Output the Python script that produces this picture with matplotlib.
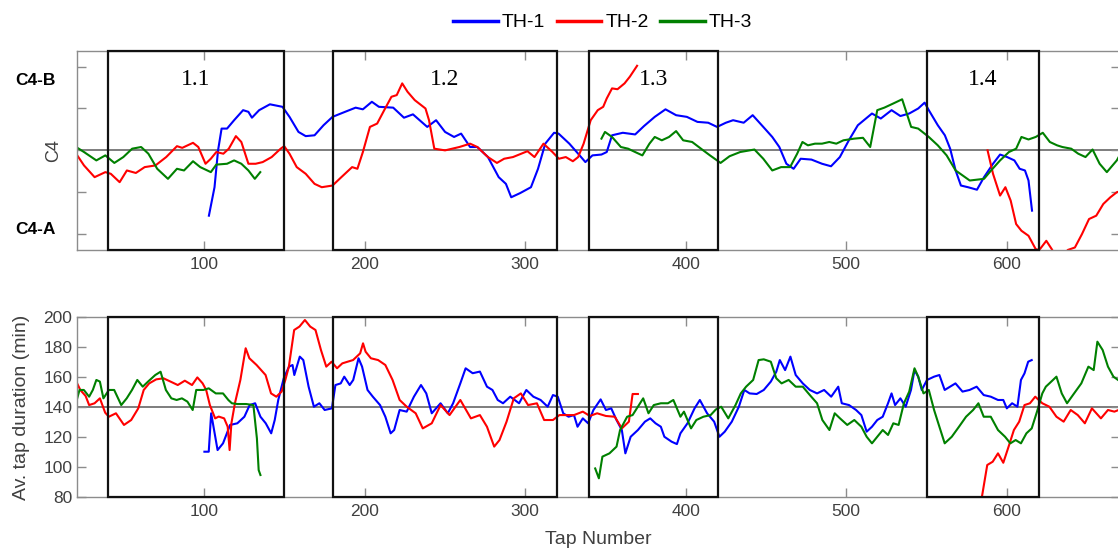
import numpy as np
import matplotlib
matplotlib.use("Agg")
import matplotlib.pyplot as plt

plt.rcParams['font.family'] = ['Liberation Sans', 'DejaVu Sans']

# ---- data (tap number, value) ----
# top panel: C4 position (arbitrary units, C4-A below, C4-B above)
TH1_C4 = [(103, -1.56), (106.5, -0.88), (108.7, 0), (110.9, 0.52), (114.3, 0.52), (118.7, 0.72),
          (124.3, 0.96), (127.6, 0.92), (129.8, 0.78), (134.3, 0.96), (141, 1.1), (148.8, 1.04),
          (153.2, 0.8), (158.8, 0.44), (163.3, 0.34), (168.8, 0.36), (174.4, 0.6), (180, 0.8),
          (187.8, 0.92), (194.4, 1.02), (198.9, 0.98), (204.5, 1.16), (208.9, 1.04), (217.8, 1.02),
          (224.5, 0.78), (230.1, 0.86), (239, 0.56), (244.5, 0.72), (250.1, 0.44), (255.7, 0.32),
          (260.1, 0.4), (265.7, 0.08), (270.2, 0.08), (276.8, -0.16), (283.5, -0.64), (288, -0.8),
          (291.3, -1.12), (296.9, -1.02), (303.6, -0.88), (308, -0.44), (312.5, 0.16), (318, 0.42),
          (320.8, 0.4), (327.5, 0.16), (333, -0.08), (337.5, -0.28), (341.9, -0.12), (347.5, -0.1),
          (350.8, -0.04), (354.1, 0.36), (360.8, 0.42), (368.5, 0.38), (374, 0.58), (380.7, 0.8),
          (387.4, 0.98), (394, 0.84), (400.7, 0.8), (407.3, 0.68), (414, 0.66), (419.5, 0.56),
          (425, 0.66), (429.5, 0.72), (436.1, 0.66), (441.7, 0.84), (448.3, 0.56), (453.9, 0.32),
          (458.3, 0.08), (462.7, -0.32), (467.2, -0.44), (471.6, -0.2), (478.3, -0.22), (484.9, -0.32),
          (490.5, -0.38), (496, -0.16), (501.6, 0.24), (507.2, 0.6), (516, 0.88), (521.5, 0.76),
          (528.2, 0.96), (533.7, 0.82), (539.2, 0.88), (544.8, 1.0), (548.8, 1.14), (551.4, 0.96),
          (557, 0.6), (561.4, 0.36), (564.7, 0.04), (568.1, -0.48), (571.4, -0.84), (575.8, -0.88),
          (581.4, -0.94), (585.8, -0.64), (591.4, -0.32), (595.8, -0.1), (600.2, -0.16), (604.7, -0.24),
          (608, -0.44), (611.3, -0.48), (613.5, -0.72), (615.7, -1.44)]

TH2_C4_A = [(20.3, -0.08), (25.2, -0.36), (31.8, -0.64), (38.5, -0.52), (41.9, -0.56), (47.4, -0.76),
            (51.9, -0.48), (57.5, -0.54), (63, -0.4), (69.7, -0.36), (76.4, -0.16), (83.1, 0.1),
            (86.4, 0.06), (93.1, 0.18), (96.4, 0.08), (100.9, -0.32), (104.2, -0.2), (107.6, -0.04),
            (112, -0.08), (115.4, 0.04), (119.8, 0.34), (123.2, 0.2), (127.6, -0.32), (132.1, -0.32),
            (136.5, -0.28), (142.1, -0.16), (147.7, 0.04), (149.9, 0.1), (153.2, -0.08), (157.7, -0.4),
            (163.3, -0.56), (168.8, -0.8), (173.3, -0.88), (180, -0.84), (185.5, -0.64), (192.2, -0.4),
            (195.5, -0.44), (198.9, -0.04), (203.3, 0.56), (207.8, 0.64), (212.2, 0.96), (216.7, 1.28),
            (220, 1.32), (223.4, 1.6), (226.7, 1.4), (231.2, 1.2), (237.9, 1.0), (240.1, 0.72),
            (243.4, 0.04), (250.1, 0), (259, 0.08), (265.7, 0.16), (270.2, 0.08), (276.8, -0.16),
            (282.4, -0.3), (286.9, -0.2), (292.4, -0.16), (301.4, -0.02), (305.8, -0.16), (311.4, 0.16),
            (317, -0.04), (321, -0.2), (325.3, -0.16), (329.7, -0.26), (333, -0.16), (336.4, 0.16),
            (340.8, 0.72), (345.2, 0.96), (348.6, 1.04), (350.8, 1.24), (354.1, 1.48), (357.5, 1.46),
            (361.9, 1.6), (365.2, 1.76), (369.7, 2.02)]
TH2_C4_B = [(588, 0.0), (591.4, -0.56), (595.8, -1.08), (599.1, -0.88), (602.4, -1.2), (605.8, -1.76),
            (609.1, -1.92), (613.5, -2.04), (618, -2.36), (620.2, -2.38), (624.6, -2.16), (628, -2.36),
            (633, -2.7), (637.9, -2.38), (642.4, -2.32), (646.8, -2.0), (651.2, -1.64), (655.7, -1.56),
            (660.1, -1.28), (664.5, -1.12), (668.5, -1.0), (672, -0.96)]

TH3_C4_A = [(20.3, 0.08), (25.2, -0.04), (32.9, -0.24), (38.5, -0.12), (44.1, -0.3), (49.7, -0.16),
            (55.2, 0.04), (60.8, 0.08), (65.3, -0.08), (70.8, -0.44), (77.5, -0.68), (83.1, -0.44),
            (87.5, -0.48), (93.1, -0.26), (97.6, -0.4), (104.2, -0.52), (107.6, -0.34), (114.3, -0.32),
            (118.7, -0.24), (123.2, -0.32), (127.6, -0.48), (131.6, -0.68), (135, -0.52)]
TH3_C4_B = [(347.5, 0.28), (349.7, 0.44), (354.1, 0.32), (359.6, 0.08), (364.1, 0.04), (368.5, -0.04),
            (373, -0.12), (377.4, 0.16), (380.7, 0.32), (385.1, 0.24), (389.6, 0.32), (394, 0.46),
            (398.4, 0.24), (404, 0.2), (409.5, 0.04), (415.1, -0.12), (421.7, -0.3), (427.3, -0.14),
            (433.9, -0.04), (442.8, 0.02), (448.3, -0.2), (453.9, -0.48), (459.4, -0.4), (465, -0.4),
            (469.4, -0.08), (472.7, 0.2), (476.1, 0.12), (480.5, 0.16), (484.9, 0.16), (489.4, 0.2),
            (493.8, 0.16), (498.2, 0.24), (504.9, 0.28), (510.4, 0.3), (514.9, 0.08), (519.3, 0.96),
            (523.7, 1.02), (529.3, 1.12), (534.8, 1.22), (540.4, 0.56), (544.8, 0.52), (551.4, 0.32),
            (557, 0.12), (562.5, -0.12), (568.1, -0.48), (572.5, -0.6), (576.9, -0.72), (581.4, -0.7),
            (585.8, -0.68), (590.2, -0.48), (595.8, -0.24), (601.3, -0.04), (605.8, 0.04), (609.1, 0.32),
            (613.5, 0.26), (618, 0.32), (622.4, 0.42), (626.8, 0.2), (631.3, 0.12), (634.6, 0.08),
            (640.1, 0.04), (644.5, -0.08), (649, -0.16), (653.4, 0.02), (657.8, -0.32), (662.3, -0.52),
            (668.5, -0.24), (672, 0.0)]

# bottom panel: average tap duration (min)
TH1_DUR = [(100.2, 110.1), (102.9, 110.1), (104.4, 135.8), (106.2, 124.6), (108.4, 111.2), (111.8, 115.7),
           (116.2, 128), (120.7, 129.1), (125.1, 133.5), (128.4, 141.3), (131.8, 142.5), (135.1, 133.5),
           (138.4, 129.1), (141.8, 122.4), (144, 131.3), (146.2, 144.7), (149.6, 159.2), (152.9, 167),
           (155.1, 168.1), (156.2, 161.4), (159.6, 173.7), (161.8, 171.4), (165.1, 153.6), (168.4, 140.2),
           (171.8, 142.5), (175.1, 138), (179.6, 139.1), (181.8, 154.7), (185.1, 155.8), (187.3, 160.3),
           (190.7, 154.7), (192.9, 158.1), (196.2, 172.6), (198.4, 167), (201.8, 151.4), (205.1, 146.9),
           (209.6, 141.3), (212.9, 133.5), (216.2, 122.4), (218.4, 124.6), (221.8, 138), (226.2, 136.9),
           (230.7, 146.9), (235.1, 154.7), (238.4, 149.1), (241.8, 135.8), (247.3, 142.5), (251.8, 135.8),
           (255.1, 142.5), (259.6, 155.8), (262.9, 165.9), (267.3, 162.6), (271.8, 163.7), (276.2, 153.6),
           (279.6, 151.4), (282.9, 144.7), (286.2, 142.5), (290.7, 146.9), (296.2, 142.5), (300.7, 151.4),
           (305.1, 146.9), (309.6, 144.7), (314, 140.2), (317.3, 148), (320.3, 146.9), (323.7, 135.8),
           (327, 133.5), (330.4, 134.6), (332.6, 126.8), (335.9, 132.4), (339.2, 129.1), (342.5, 138),
           (347, 145.1), (350.3, 138), (353.6, 139.1), (356.9, 131.3), (360.2, 124.6), (362.4, 109),
           (365.7, 120.1), (370.2, 124.6), (374.6, 130.2), (377.9, 132.4), (381.2, 129.1), (384.5, 126.8),
           (386.7, 120.1), (391.2, 116.8), (394.5, 115.2), (396.7, 122.4), (401.1, 129.1), (405.5, 139.1),
           (408.8, 144.7), (413.3, 135.8), (417.7, 130.2), (421, 120.1), (424.3, 123.5), (428.7, 130.2),
           (433.1, 140.2), (436.5, 151.4), (439.8, 149.1), (444.2, 148.7), (448.6, 151.4), (453, 157),
           (456.4, 163.6), (458.6, 171.4), (461.9, 164.7), (465.2, 173.7), (468.5, 161.4), (472.9, 155.8),
           (477.3, 151.4), (481.8, 149.1), (486.2, 151.4), (490.6, 146.9), (495, 153.6), (497.2, 142.5),
           (501.7, 141.3), (506.1, 138), (509.4, 134.6), (512.7, 123.5), (516, 126.8), (519.3, 131.3),
           (522.7, 133.5), (526, 142.5), (528.2, 149.1), (530.4, 141.3), (533.7, 145.8), (537, 140.2),
           (540.3, 151.4), (542.5, 164.7), (544.8, 160.3), (547, 151.4), (550.3, 158.1), (554.7, 160.3),
           (558, 161.4), (561.3, 151.4), (564.6, 153.6), (568, 155.8), (572.4, 150.3), (576.8, 151.4),
           (581.2, 153.6), (585.6, 148), (590, 146.9), (594.5, 144.7), (597.8, 144.7), (600, 139.1),
           (603.3, 142.5), (606.6, 140.2), (608.8, 158.1), (611, 162.5), (613.3, 170.3), (615.5, 171.4)]

TH2_DUR_A = [(20.7, 156.3), (22.9, 151.4), (26.2, 147.4), (28.4, 141.3), (31.8, 142.5), (35.1, 145.8),
             (38.4, 136.2), (40.7, 133.5), (45.1, 135.8), (50.1, 128), (54.6, 131.3), (59, 139.1),
             (62.4, 151.4), (65.8, 155.8), (70.2, 158.5), (74.7, 159.2), (79.1, 157), (83.6, 154.7),
             (88, 157.6), (92.5, 154.7), (95.8, 159.8), (99.1, 155.8), (101.3, 151.4), (103.6, 141.3),
             (106.9, 132.4), (109.1, 133.6), (112.5, 132.4), (114.7, 126.8), (115.9, 111.2), (117, 129),
             (119.2, 142.5), (122.6, 158.1), (125.9, 179.3), (128.2, 172.6), (132.7, 168.1), (138.3, 161.4),
             (141.7, 149.1), (145, 146.9), (148.3, 150.3), (150.6, 158.1), (152.8, 167), (156.1, 191.5),
             (159.4, 193.8), (162.8, 198.2), (166.1, 193.8), (169.4, 191.5), (172.8, 178.1), (176.1, 167),
             (179.4, 170.3), (182.8, 165.9), (186.1, 169.2), (189.4, 170.3), (192.8, 171.4), (197.2, 175.9),
             (199, 182.6), (200.6, 177), (203.9, 172.6), (208.4, 171.4), (212.9, 168.1), (217.4, 158.1),
             (221.8, 144.7), (226.2, 140.2), (231.8, 135.8), (236.2, 125.7), (241.8, 129.1), (247.3, 141.3),
             (252.9, 134.6), (259.6, 144.7), (266.2, 132.4), (271.8, 134.6), (276.2, 126.8), (280.7, 113.5),
             (284, 117.9), (288.4, 130.2), (292.9, 145.8), (297.3, 149.1), (301.8, 141.3), (307.3, 142.5),
             (311.8, 131.3), (317.3, 131.3), (321.3, 134.6), (324.9, 134.6), (330.4, 134.6), (335.9, 136.9),
             (340.3, 134), (344.8, 135.8), (350.3, 134), (355.8, 133.5), (360.2, 125.7), (364.6, 130.2),
             (366.9, 148.7), (370.2, 148.7)]
TH2_DUR_B = [(584.5, 80), (587.8, 101.2), (591.2, 103.4), (594.5, 109), (597.8, 102.7), (601.1, 113.5),
             (604.4, 124.6), (607.7, 130.2), (611, 141.3), (614.4, 142.5), (617.7, 146.9), (622.1, 142.5),
             (626.5, 140.2), (630.9, 133.5), (635.4, 130.2), (639.8, 138), (644.2, 134.6), (648.6, 129.1),
             (653, 139.1), (658.6, 132.4), (663, 138), (667, 136.9), (672, 139)]

TH3_DUR_A = [(20.7, 144.7), (22.4, 151.4), (25.1, 151.4), (28.4, 146.9), (30.7, 151.4), (32.9, 158.1),
             (35.1, 157), (37.3, 145.8), (40.7, 151.4), (44, 151.4), (48.4, 141.3), (51.8, 145.8),
             (55.1, 151.4), (58.4, 158.1), (61.8, 153.6), (65.1, 157), (69.6, 161.4), (72.9, 163.6),
             (76.2, 151.4), (79.6, 145.8), (82.9, 144.7), (86.2, 145.8), (89.6, 143.6), (92.9, 138),
             (95.1, 151.4), (99.6, 151.4), (102.9, 152.5), (107.3, 149.1), (111.8, 149.1), (115.1, 144.7),
             (117.3, 142.5), (120.7, 142), (126.2, 142), (130.7, 141.3), (132.9, 119), (134, 97.8),
             (135.1, 94.5)]
TH3_DUR_B = [(343.6, 98.9), (345.9, 92.3), (348.1, 106.8), (352.5, 109), (356.9, 113.5), (359.1, 124.6),
             (363.5, 133.5), (366.9, 134.6), (370.2, 140.2), (373.5, 145.8), (376.8, 135.8), (380.1, 141.3),
             (384.5, 142.5), (388.9, 142.5), (392.3, 144.7), (396.7, 133.5), (398.9, 136.9), (403.3, 125.7),
             (406.6, 131.3), (411, 133.5), (415.5, 134.6), (418.8, 138.4), (422.1, 140.2), (426.5, 132.4),
             (431, 141.3), (434.3, 149.1), (437.6, 153.6), (442, 158.1), (445.4, 171.4), (448.6, 171.9),
             (453, 170.3), (456.4, 159.2), (459.7, 155.8), (464.1, 158.1), (468.5, 153.6), (472.9, 153.6),
             (477.3, 148), (481.8, 142.5), (485.1, 131.3), (489.5, 124.6), (492.8, 135.8), (496.1, 132.4),
             (500.6, 128), (505, 131.3), (509.4, 126.8), (512.7, 120.1), (516, 115.7), (519.3, 120.1),
             (522.7, 124.6), (526, 121.3), (529.3, 129.1), (532.6, 128), (535.9, 142.5), (539.2, 150.3),
             (542.5, 165.9), (544.8, 160.3), (548.1, 149.1), (551.4, 151.4), (554.7, 138), (558, 126.8),
             (561.3, 115.7), (565.7, 120.1), (570.2, 126.8), (574.6, 133.5), (579, 138), (582.3, 142.5),
             (585.6, 133.5), (590, 133.5), (594.5, 124.6), (598.9, 120.1), (602.2, 115.7), (605.5, 117.9),
             (608.8, 115.7), (612.2, 122.4), (615.5, 125.7), (618.8, 136.9), (622.1, 149.1), (624.3, 153.6),
             (626.5, 155.8), (630.9, 160.3), (634.2, 149.1), (637.5, 142.5), (641.9, 149.1), (646.4, 155.8),
             (650.8, 167), (654.1, 164.7), (656.4, 183.7), (659.7, 178.1), (663, 167), (666.4, 160.3),
             (672, 156)]

BOX_START = [40, 180, 340, 550]
BOX_END = [150, 320, 420, 620]
BOX_LABELS = ['1.1', '1.2', '1.3', '1.4']
SERIES = ['TH-1', 'TH-2', 'TH-3']
COLORS = ['#0000ff', '#ff0000', '#008000']

C4_REF = 0
DUR_REF = 140
XTICKS = [100, 200, 300, 400, 500, 600]
DUR_TICKS = [80, 100, 120, 140, 160, 180, 200]

GRAY = '#8c8c8c'
TXT = '#404040'

fig = plt.figure(figsize=(11.18, 5.53), dpi=100)
ax1 = fig.add_axes([0.0691, 0.5479, 0.9327, 0.3604])
ax2 = fig.add_axes([0.0691, 0.1018, 0.9327, 0.3244])


def draw(ax, pts, color, label=None):
    xy = np.array(pts)
    return ax.plot(xy[:, 0], xy[:, 1], color=color, lw=1.5, label=label)[0]


def style(ax):
    ax.set_xlim(21, 670.5)
    ax.set_xticks(XTICKS)
    for s in ax.spines.values():
        s.set_color(GRAY)
        s.set_linewidth(1.0)
    ax.tick_params(direction='in', length=6.5, width=1.0, color=GRAY, labelcolor=TXT,
                   labelsize=12.5, top=True, right=True)
    ax.tick_params(axis='x', pad=5)
    ax.tick_params(axis='y', pad=3.5)


def boxes(ax):
    for x0, x1 in zip(BOX_START, BOX_END):
        ax.axvspan(x0, x1, fill=False, edgecolor='#111111', lw=1.6, clip_on=False, zorder=4)


# top panel
h1 = draw(ax1, TH1_C4, COLORS[0], SERIES[0])
h2 = draw(ax1, TH2_C4_A, COLORS[1], SERIES[1])
draw(ax1, TH2_C4_B, COLORS[1])
h3 = draw(ax1, TH3_C4_A, COLORS[2], SERIES[2])
draw(ax1, TH3_C4_B, COLORS[2])
ax1.axhline(C4_REF, color='#5a5a5a', lw=1.1, zorder=1)
ax1.set_ylim(-2.38, 2.38)
ax1.set_yticks([-2, -1, 0, 1, 2])
ax1.set_yticklabels([])
style(ax1)
boxes(ax1)
for x0, x1, lab in zip(BOX_START, BOX_END, BOX_LABELS):
    ax1.text((x0 + x1) / 2, 1.7, lab, ha='center', va='center', fontsize=17,
             family=['Liberation Serif', 'DejaVu Serif'], zorder=5)
ax1.set_ylabel('C4', fontsize=13, color=TXT, ha='center', va='center')
ax1.yaxis.set_label_coords(-0.023, 0.5)
ytr = ax1.get_yaxis_transform()
ax1.text(-0.0597, 1.67, 'C4-B', transform=ytr, ha='left', va='center',
         fontsize=12.5, fontweight='bold')
ax1.text(-0.0597, -1.88, 'C4-A', transform=ytr, ha='left', va='center',
         fontsize=12.5, fontweight='bold')

# bottom panel
draw(ax2, TH1_DUR, COLORS[0])
draw(ax2, TH2_DUR_A, COLORS[1])
draw(ax2, TH2_DUR_B, COLORS[1])
draw(ax2, TH3_DUR_A, COLORS[2])
draw(ax2, TH3_DUR_B, COLORS[2])
ax2.axhline(DUR_REF, color='#5a5a5a', lw=1.1, zorder=1)
ax2.set_ylim(80, 200)
ax2.set_yticks(DUR_TICKS)
style(ax2)
boxes(ax2)
ax2.set_ylabel('Av. tap duration (min)', fontsize=14, color=TXT, ha='center', va='center')
ax2.yaxis.set_label_coords(-0.053, 0.5)
ax2.set_xlabel('Tap Number', fontsize=14, color=TXT, va='center')
ax2.xaxis.set_label_coords(0.5, -0.241)

leg = fig.legend(handles=[h1, h2, h3], loc='center', bbox_to_anchor=(0.539, 0.959), ncol=3,
                 frameon=False, fontsize=14, handlelength=2.3, handletextpad=0.2,
                 columnspacing=0.6, borderaxespad=0)
for ln in leg.get_lines():
    ln.set_linewidth(2.5)

fig.savefig('out.png', dpi=100)
